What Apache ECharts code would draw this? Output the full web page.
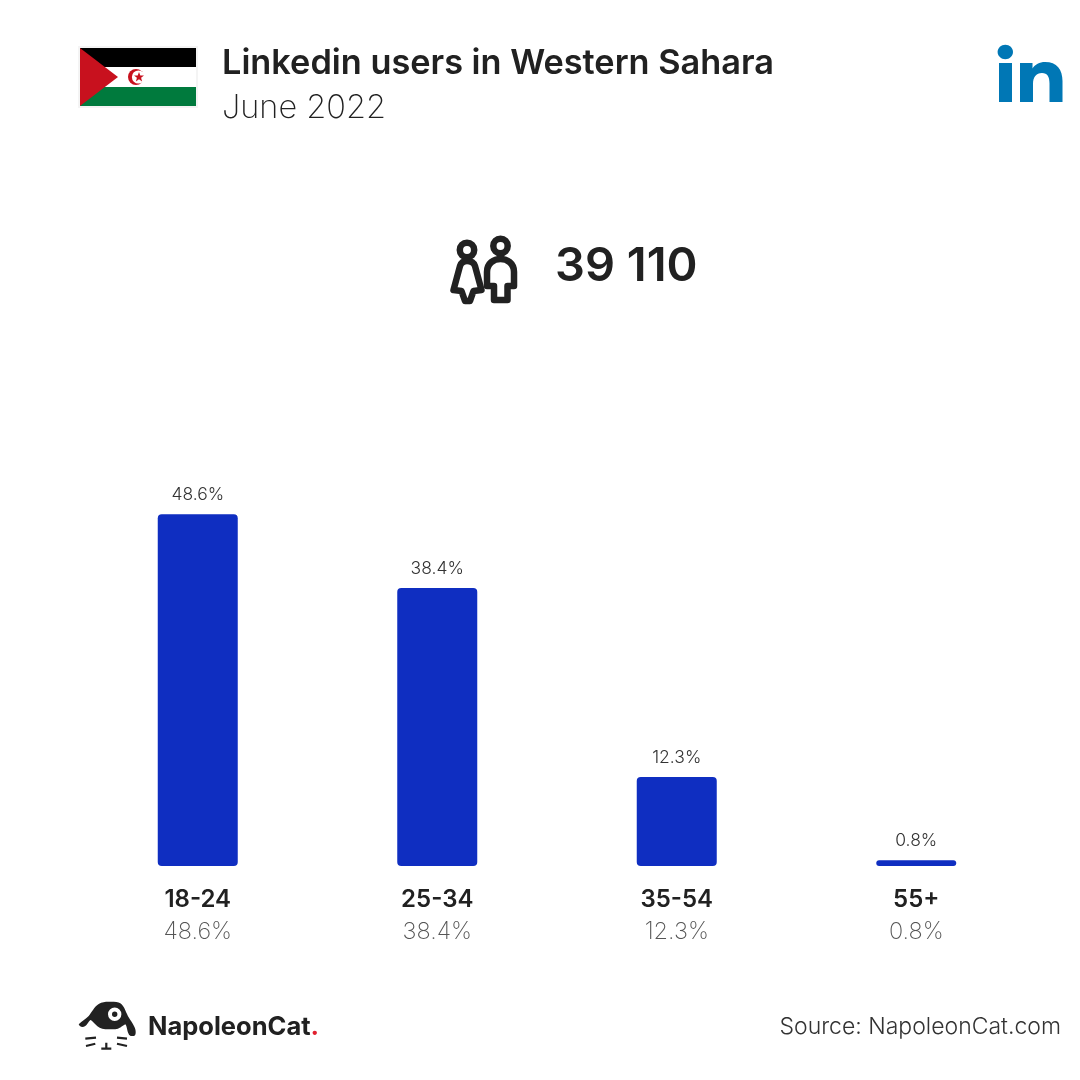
<!DOCTYPE html>
<html>
<head>
<meta charset="utf-8">
<style>
  html, body { margin: 0; padding: 0; background: #fff; }
  #container { width: 1080px; height: 1080px; }
</style>
<script src="https://cdn.jsdelivr.net/npm/echarts@6/dist/echarts.min.js"></script>
</head>
<body>
<div id="container"></div>
<script>
var categories = ['18-24', '25-34', '35-54', '55+'];
var shares = [48.6, 38.4, 12.3, 0.8];
var titleText = 'Linkedin users in Western Sahara';
var dateText = 'June 2022';
var totalText = '39 110';
var sourceText = 'Source: NapoleonCat.com';

var font = 'Inter';
var dark = '#212121';

var myChart = echarts.init(document.getElementById('container'), null, { renderer: 'canvas' });

// the graphic component has no plain path type, so register each svg path as a shape
var shapeCount = 0;
function svgPath(pathData, style) {
  var name = 'svgShape' + shapeCount++;
  echarts.graphic.registerShape(name, echarts.graphic.extendPath(pathData, {}));
  return { type: name, style: style };
}

var option = {
  backgroundColor: '#ffffff',
  animation: false,
  textStyle: { fontFamily: font },
  grid: { left: 78, right: 44, top: 504, bottom: 214 },
  xAxis: {
    type: 'category',
    data: categories,
    axisLine: { show: false },
    axisTick: { show: false },
    axisLabel: {
      margin: 18,
      interval: 0,
      formatter: function (value, i) {
        return '{a|' + value + '}\n{b|' + shares[i].toFixed(1) + '%}';
      },
      rich: {
        a: { fontFamily: font, fontSize: 24, fontWeight: 600, color: dark, lineHeight: 32, align: 'center' },
        b: { fontFamily: font, fontSize: 23.5, fontWeight: 200, color: '#555555', lineHeight: 32, align: 'center' }
      }
    }
  },
  yAxis: { type: 'value', min: 0, max: 50, show: false },
  series: [
    {
      type: 'bar',
      data: shares,
      barWidth: 80,
      itemStyle: { color: '#0F2EC1', borderRadius: 4 },
      label: {
        show: true,
        position: 'top',
        distance: 10,
        fontFamily: font,
        fontSize: 17.5,
        fontWeight: 300,
        color: '#333333',
        formatter: function (p) { return p.value.toFixed(1) + '%'; }
      }
    }
  ],
  graphic: [
    // header text
    { type: 'text', x: 222, y: 47, style: { text: titleText, font: '600 34.3px ' + font, fill: dark } },
    { type: 'text', x: 222, y: 92, style: { text: dateText, font: '200 32.5px ' + font, fill: dark } },
    { type: 'text', x: 555, y: 243, style: { text: totalText, font: '600 47px ' + font, fill: dark } },
    { type: 'text', x: 1061, y: 1016, style: { text: sourceText, align: 'right', font: '300 23px ' + font, fill: '#333333' } },

    // flag
    { type: 'rect', shape: { x: 78, y: 46, width: 120, height: 62 }, style: { fill: '#f4f4f4' } },
    { type: 'rect', shape: { x: 80, y: 48, width: 116, height: 19 }, style: { fill: '#000000' } },
    { type: 'rect', shape: { x: 80, y: 67, width: 116, height: 20 }, style: { fill: '#ffffff' } },
    { type: 'rect', shape: { x: 80, y: 87, width: 116, height: 19 }, style: { fill: '#007A3D' } },
    { type: 'polygon', shape: { points: [[80, 48], [118, 77], [80, 106]] }, style: { fill: '#C8111E' } },
    { type: 'circle', shape: { cx: 136, cy: 77, r: 8 }, style: { fill: '#C8111E' } },
    { type: 'circle', shape: { cx: 138.5, cy: 77, r: 6.6 }, style: { fill: '#ffffff' } },
    svgPath('M139 72 L140.3 75.4 L144 75.5 L141.1 77.8 L142.1 81.4 L139 79.3 L135.9 81.4 L136.9 77.8 L134 75.5 L137.7 75.4 Z', { fill: '#C8111E' }),

    // linkedin mark
    { type: 'ellipse', shape: { cx: 1005.3, cy: 52, rx: 7.7, ry: 7.2 }, style: { fill: '#0077B5' } },
    { type: 'rect', shape: { x: 999, y: 63, width: 13, height: 39 }, style: { fill: '#0077B5' } },
    svgPath('M1020 63 H1032.5 V68.5 C1035 64.5 1039.5 62 1045 62 C1057 62 1062.5 69.5 1062.5 81 V102 H1049.5 V83.5 C1049.5 77 1047.5 73 1042 73 C1036 73 1033 77.5 1033 83.5 V102 H1020 Z', { fill: '#0077B5' }),

    // people icon
    { type: 'circle', shape: { cx: 467, cy: 250, r: 7.2 }, style: { fill: 'none', stroke: dark, lineWidth: 6.5 } },
    { type: 'circle', shape: { cx: 500.5, cy: 246, r: 7.2 }, style: { fill: 'none', stroke: dark, lineWidth: 6.5 } },
    svgPath('M467 261 C463 261 461 263 460 266 L453.5 290 L461.5 291 L465 301 H470 L473.5 291 L481.5 290 L475 266 C474 263 471 261 467 261 Z', { fill: 'none', stroke: dark, lineWidth: 6.5, lineJoin: 'round' }),
    svgPath('M487 286 V272 C487 263 494 259 500.5 259 C507 259 514 263 514 272 V286 H507.5 V300 H494 V286 Z', { fill: 'none', stroke: dark, lineWidth: 6.5, lineJoin: 'round' }),

    // napoleoncat logo
    svgPath('M78.7 1024.3 C82 1021 86 1019 88.7 1016 C92 1012 94 1007 98.7 1004 C102 1002 105 1001.7 108.7 1001.7 C113 1001.7 118 1001.5 120.3 1003.3 C124 1006 125 1010 127 1014 C129 1019 134 1024 135.3 1029.3 C136 1032 136 1036 133.7 1036 C130 1036.5 129 1035 128.7 1034 C127 1031 127 1026 125.3 1024.3 C122 1026 119 1029.3 115.3 1029.3 H105.3 C101 1029 98 1027 95.3 1024.3 C93 1022 92 1020.5 90.3 1020 C88 1022 87 1025 85.3 1026 C83 1027.5 80 1027.5 78.7 1024.3 Z', { fill: dark }),
    { type: 'circle', shape: { cx: 114.7, cy: 1014.3, r: 4.7 }, style: { fill: dark, stroke: '#ffffff', lineWidth: 4 } },
    svgPath('M85.3 1038.7 L96 1037.7 M86 1046 L95.3 1043.7 M117 1037.7 L127 1038.7 M117 1043.7 L127 1046 M106.3 1042.7 V1048.7 M101.3 1048.7 H111.3', { fill: 'none', stroke: dark, lineWidth: 2.2 }),
    {
      type: 'text', x: 148, y: 1014,
      style: {
        text: '{n|NapoleonCat}{d|.}',
        rich: {
          n: { fontFamily: font, fontSize: 25.5, fontWeight: 700, fill: dark },
          d: { fontFamily: font, fontSize: 25.5, fontWeight: 700, fill: '#E0202E' }
        }
      }
    }
  ]
};

myChart.setOption(option);

window.addEventListener('resize', myChart.resize);
</script>
</body>
</html>
